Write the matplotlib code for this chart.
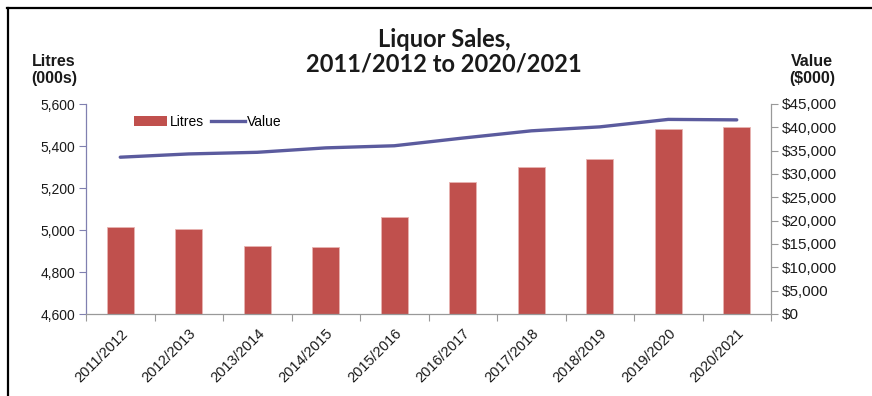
import matplotlib
matplotlib.use("Agg")
import matplotlib.pyplot as plt
from matplotlib.lines import Line2D
from matplotlib.patches import Patch
import numpy as np

categories = ["2011/2012", "2012/2013", "2013/2014", "2014/2015", "2015/2016",
              "2016/2017", "2017/2018", "2018/2019", "2019/2020", "2020/2021"]
litres = [5013, 5005, 4924, 4919, 5060, 5230, 5300, 5337, 5479, 5492]
value = [33600, 34300, 34650, 35600, 36050, 37700, 39250, 40100, 41700, 41600]
left_ticks = [4600, 4800, 5000, 5200, 5400, 5600]
right_ticks = list(range(0, 45001, 5000))

W, H = 872, 396
fig = plt.figure(figsize=(W / 100, H / 100), dpi=100)
plt.rcParams['font.family'] = ['Liberation Sans', 'DejaVu Sans']

def fx(px):
    return px / W

def fy(py):
    return 1 - py / H

ax = fig.add_axes([fx(86), fy(314), fx(771) - fx(86), fy(104) - fy(314)])
ax2 = ax.twinx()

x = np.arange(len(categories))
bar_color = '#C0504D'
line_color = '#5B5B9E'
ax.bar(x, litres, width=0.39, color=bar_color, edgecolor='#E8B4B2', linewidth=0.6, zorder=2)
ax.set_ylim(4600, 5600)
ax.set_xlim(-0.5, len(categories) - 0.5)
ax.set_yticks(left_ticks)
ax.set_yticklabels([f"{v:,}" for v in left_ticks], fontsize=10)
ax.tick_params(axis='y', length=5, width=0.8, color='#8080B0', pad=3, labelcolor='#1a1a1a')

ax.set_xticks(x)
ax.set_xticklabels(categories, rotation=45, ha='right', rotation_mode='anchor', fontsize=10.5)
ax.tick_params(axis='x', length=0, pad=9, labelcolor='#1a1a1a')
ax.set_xticks(np.arange(-0.5, len(categories), 1), minor=True)
ax.tick_params(axis='x', which='minor', length=5, width=0.8, color='#999999')

ax2.plot(x, value, color=line_color, linewidth=2.4, solid_capstyle='round', zorder=3)
ax2.set_ylim(0, 45000)
ax2.set_yticks(right_ticks)
ax2.set_yticklabels([f"${v:,}" for v in right_ticks], fontsize=11)
ax2.tick_params(axis='y', length=5, width=0.8, color='#999999', pad=3, labelcolor='#1a1a1a')

for a in (ax, ax2):
    a.spines['top'].set_visible(False)
ax.spines['left'].set_color('#8080B0')
ax.spines['bottom'].set_color('#999999')
ax.spines['right'].set_visible(False)
ax2.spines['left'].set_visible(False)
ax2.spines['bottom'].set_visible(False)
ax2.spines['right'].set_color('#999999')
for s in ['left', 'bottom']:
    ax.spines[s].set_linewidth(0.9)
ax2.spines['right'].set_linewidth(0.9)

handles = [Patch(facecolor=bar_color, edgecolor='none'),
           Line2D([0], [0], color=line_color, linewidth=2.4)]
leg = fig.legend(handles, ["Litres", "Value"], loc='center left',
                 bbox_to_anchor=(fx(134), fy(122)), ncol=2, frameon=False,
                 fontsize=10, handlelength=2.4, handleheight=0.7,
                 handletextpad=0.2, columnspacing=0.5, borderaxespad=0, borderpad=0)

fig.text(fx(444), fy(52), "Liquor Sales,\n2011/2012 to 2020/2021", ha='center', va='center',
         fontsize=17, fontweight='bold', family=['Lato', 'DejaVu Sans'], linespacing=1.1,
         color='#1a1a1a')
fig.text(fx(54), fy(70), "Litres\n(000s)", ha='center', va='center', fontsize=11.5,
         fontweight='bold', linespacing=1.1, color='#1a1a1a')
fig.text(fx(812), fy(70), "Value\n($000)", ha='center', va='center', fontsize=11.5,
         fontweight='bold', linespacing=1.1, color='#1a1a1a')

# outer frame (top and left visible)
fig.add_artist(Line2D([fx(8), fx(8)], [fy(8), fy(400)], color='black', linewidth=1.6,
                      transform=fig.transFigure))
fig.add_artist(Line2D([fx(7), fx(875)], [fy(8), fy(8)], color='black', linewidth=1.6,
                      transform=fig.transFigure))

fig.savefig("out.png", dpi=100)
